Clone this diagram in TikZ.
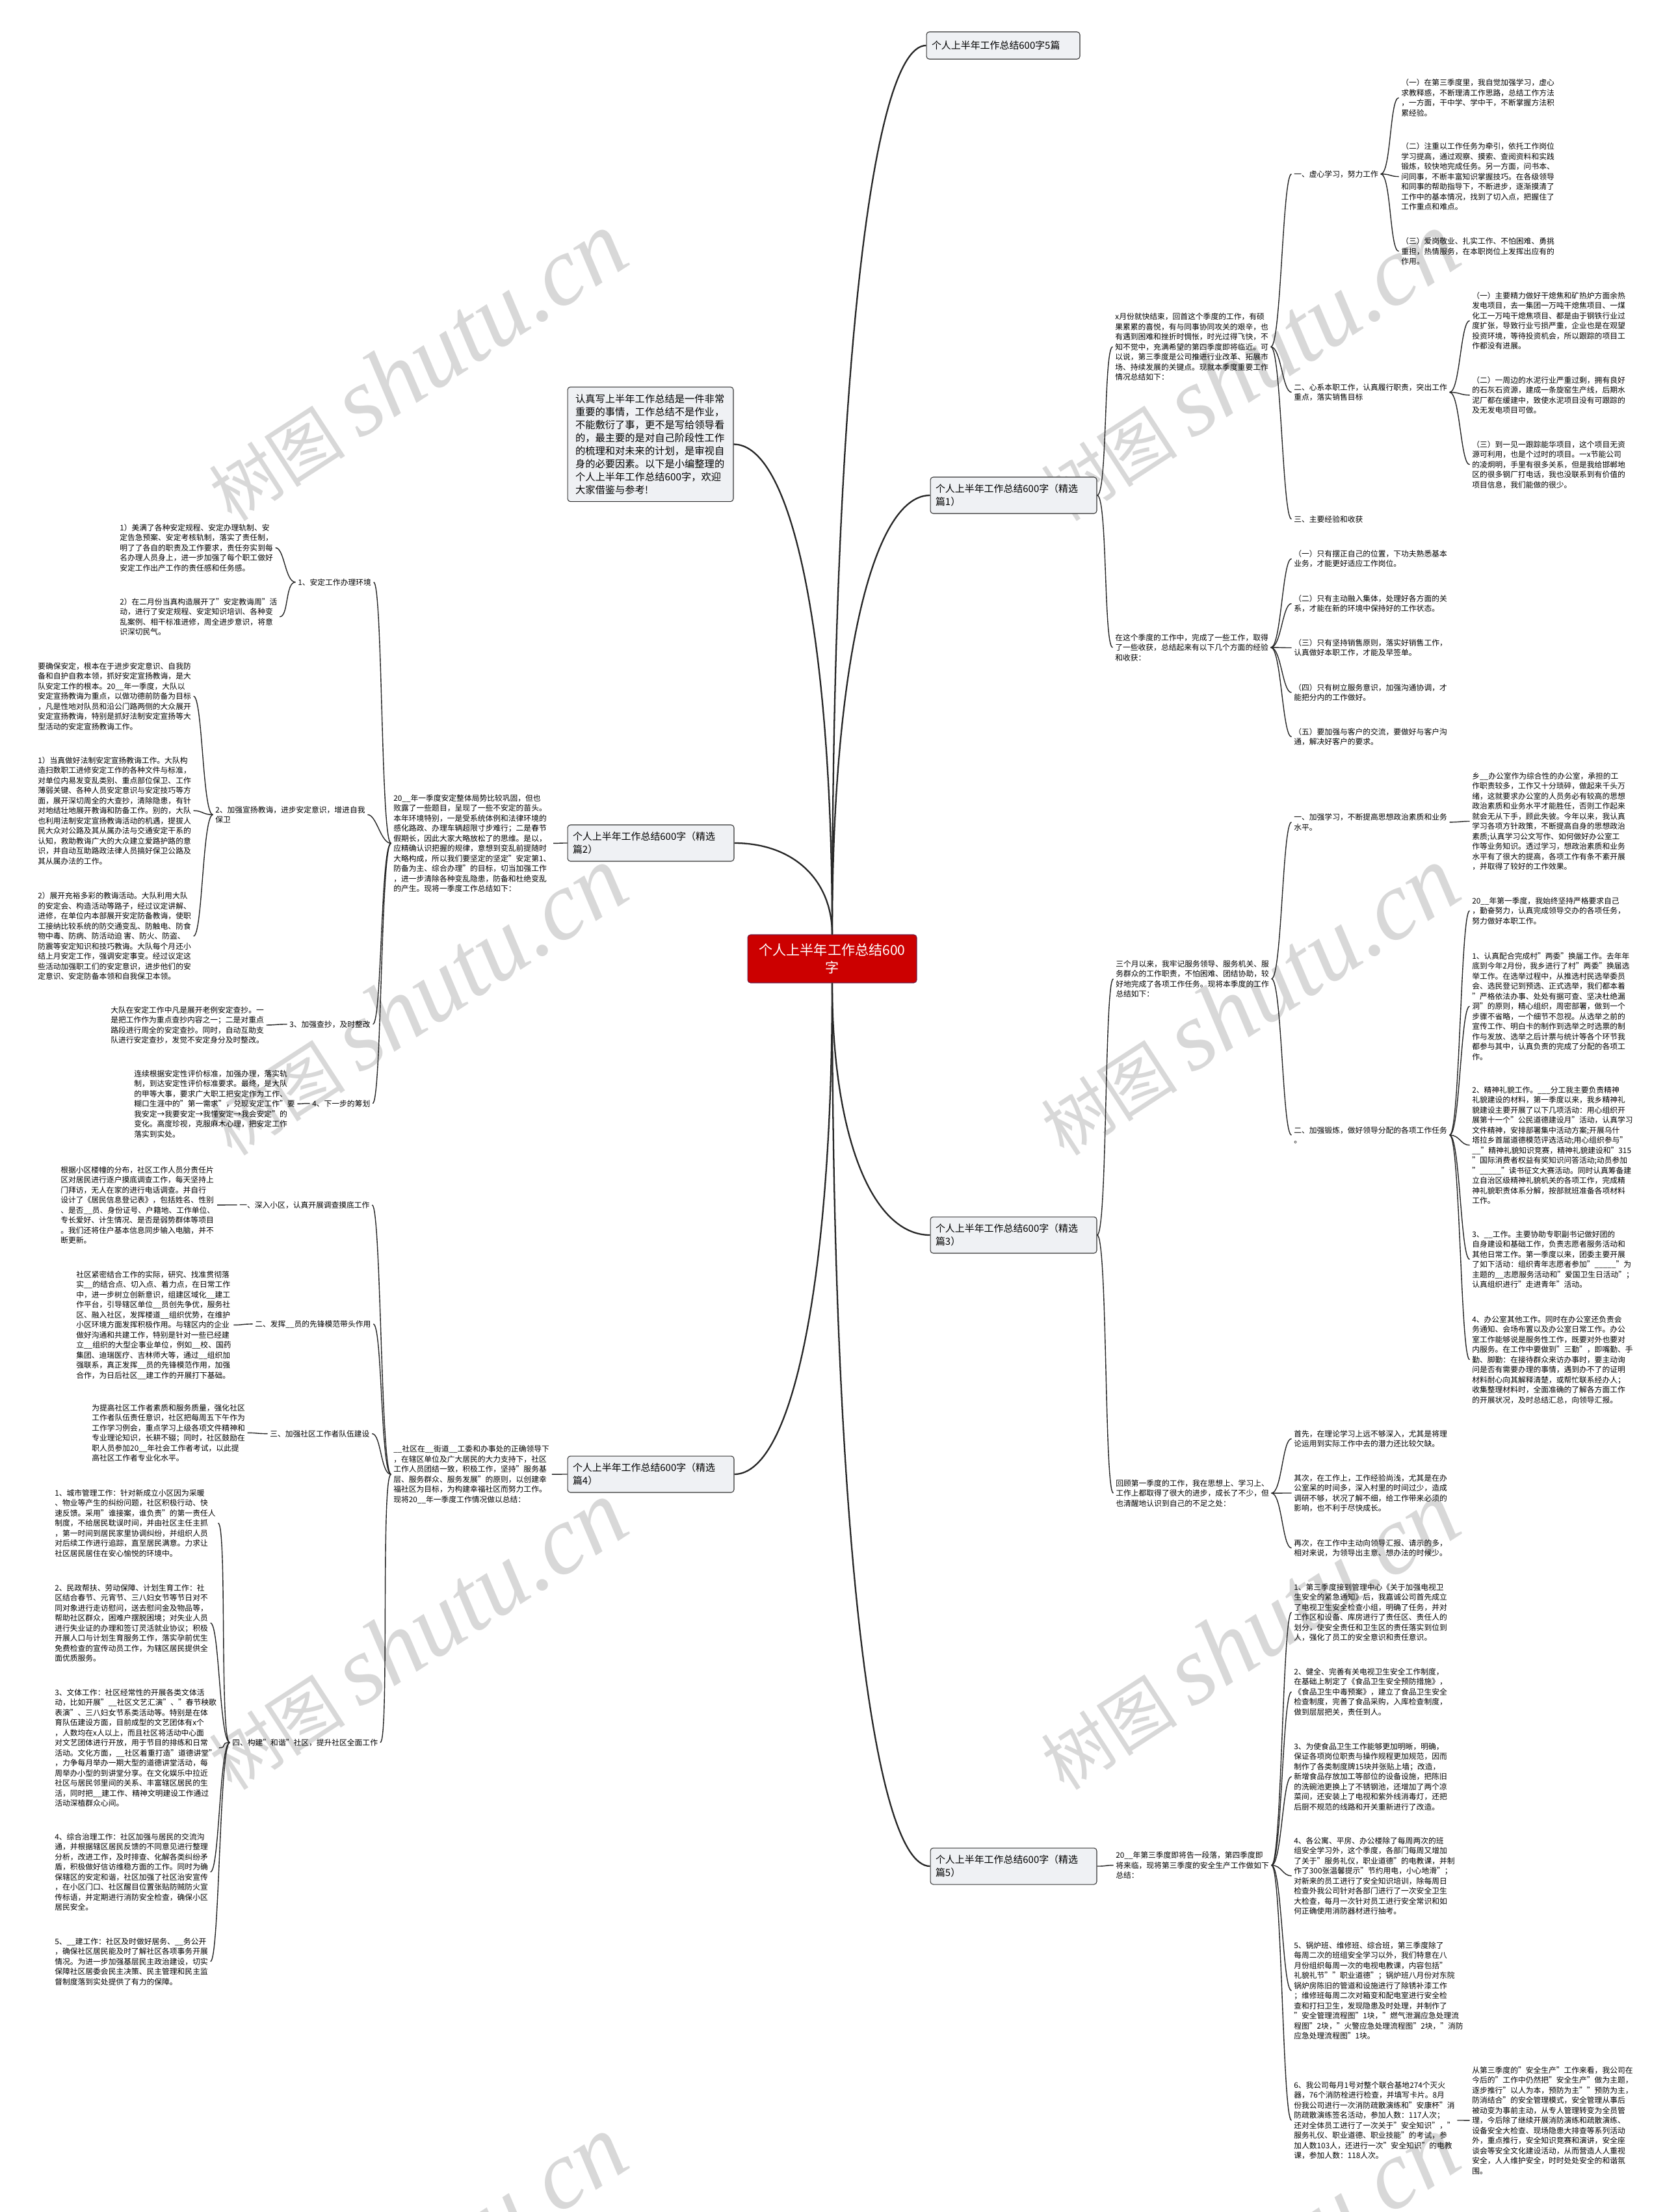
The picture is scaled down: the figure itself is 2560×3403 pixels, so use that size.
\documentclass[tikz,border=0pt]{standalone}
\usepackage{fontspec}
\setmainfont{Noto Sans CJK SC}
\newfontfamily\wmserif{Liberation Serif}
\usetikzlibrary{calc}
\definecolor{boxfill}{RGB}{239,241,244}
\definecolor{rootred}{RGB}{204,0,0}
\definecolor{rootedge}{RGB}{110,30,70}
\definecolor{wmgray}{RGB}{216,216,216}

\begin{document}
\begin{tikzpicture}[x=0.02cm,y=-0.02cm,
 txt/.style={anchor=north west,inner xsep=2pt,inner ysep=1pt,align=left,font=\fontsize{6.7}{8.82}\selectfont},
 branch/.style={draw=black!80,line width=.6pt,fill=boxfill,rounded corners=2.5pt,align=left,text width=4.8cm,inner xsep=.16cm,inner ysep=.1cm,minimum height=1.12cm,font=\fontsize{8.5}{11.4}\selectfont},
 rl/.style={draw=black!85,line width=.8pt,to path={.. controls +(16,0) and +(-14,0) .. (\tikztotarget)}},
 ll/.style={draw=black!85,line width=.8pt,to path={.. controls +(-16,0) and +(14,0) .. (\tikztotarget)}},
 trunk/.style={draw=black!85,line width=1.3pt,to path={.. controls ($(\tikztostart)!.6!(\tikztostart|-\tikztotarget)$) and ($(\tikztotarget)!.6!(\tikztostart|-\tikztotarget)$) .. (\tikztotarget)}},
 wmark/.style={text=wmgray,rotate=33,inner sep=0}]
\useasboundingbox (0,0) rectangle (2560,3403);
\clip (0,0) rectangle (2560,3403);
\fill[white] (0,0) rectangle (2560,3403);
\foreach \wx in {640,1920}
 \foreach \wy in {564,1540,2516,3492}
  \node[wmark] (wm\wx\wy) at (\wx,\wy) {\fontsize{60}{60}\selectfont 树图 {\wmserif\itshape\fontsize{85}{85}\selectfont shutu.cn}};

\node[draw=rootedge,fill=rootred,text=white,rounded corners=2.5pt,line width=.6pt,align=center,minimum width=5.2cm,minimum height=1.48cm,font=\fontsize{12}{15.2}\selectfont] (root) at (1280,1475) {个人上半年工作总结600\\字};
\node[branch,text width=4.4cm,minimum height=.84cm] (t0) at (1543,70) {个人上半年工作总结600字5篇};
\node[branch,text width=4.62cm,inner xsep=.24cm,inner ysep=.22cm,font=\fontsize{8.7}{11.4}\selectfont] (intro) at (1000.5,683.5) {认真写上半年工作总结是一件非常\\重要的事情，工作总结不是作业，\\不能敷衍了事，更不是写给领导看\\的，最主要的是对自己阶段性工作\\的梳理和对未来的计划，是审视自\\身的必要因素。以下是小编整理的\\个人上半年工作总结600字，欢迎\\大家借鉴与参考!};
\node[branch] (b1) at (1559,762) {个人上半年工作总结600字（精选\\篇1）};
\node[branch] (b2) at (1001,1297) {个人上半年工作总结600字（精选\\篇2）};
\node[branch] (b3) at (1559,1900) {个人上半年工作总结600字（精选\\篇3）};
\node[branch] (b4) at (1001,2268) {个人上半年工作总结600字（精选\\篇4）};
\node[branch] (b5) at (1559,2871) {个人上半年工作总结600字（精选\\篇5）};

\node[txt] (b1t) at (1711.5,479.5) {x月份就快结束，回首这个季度的工作，有硕\\果累累的喜悦，有与同事协同攻关的艰辛，也\\有遇到困难和挫折时惆怅，时光过得飞快，不\\知不觉中，充满希望的第四季度即将临近。可\\以说，第三季度是公司推进行业改革、拓展市\\场、持续发展的关键点。现就本季度重要工作\\情况总结如下：};
\node[txt] (b1a) at (1986.5,260) {一、虚心学习，努力工作};
\node[txt] (b1a1) at (2151.5,119.5) {（一）在第三季度里，我自觉加强学习，虚心\\求教释惑，不断理清工作思路，总结工作方法\\，一方面，干中学、学中干，不断掌握方法积\\累经验。};
\node[txt] (b1a2) at (2151.5,217.5) {（二）注重以工作任务为牵引，依托工作岗位\\学习提高，通过观察、摸索、查阅资料和实践\\锻炼，较快地完成任务。另一方面，问书本、\\问同事，不断丰富知识掌握技巧。在各级领导\\和同事的帮助指导下，不断进步，逐渐摸清了\\工作中的基本情况，找到了切入点，把握住了\\工作重点和难点。};
\node[txt] (b1a3) at (2151.5,363.5) {（三）爱岗敬业、扎实工作、不怕困难、勇挑\\重担，热情服务，在本职岗位上发挥出应有的\\作用。};
\node[txt] (b1b) at (1986.5,588) {二、心系本职工作，认真履行职责，突出工作\\重点，落实销售目标};
\node[txt] (b1b1) at (2260.5,447) {（一）主要精力做好干熄焦和矿热炉方面余热\\发电项目，去一集团一万吨干熄焦项目、一煤\\化工一万吨干熄焦项目、都是由于钢铁行业过\\度扩张，导致行业亏损严重，企业也是在观望\\投资环境，等待投资机会，所以跟踪的项目工\\作都没有进展。};
\node[txt] (b1b2) at (2260.5,577) {（二）一周边的水泥行业严重过剩，拥有良好\\的石灰石资源，建成一条旋窑生产线，后期水\\泥厂都在缓建中，致使水泥项目没有可跟踪的\\及无发电项目可做。};
\node[txt] (b1b3) at (2260.5,676) {（三）到一见一跟踪能华项目，这个项目无资\\源可利用，也是个过时的项目。一x节能公司\\的凌炯明，手里有很多关系，但是我给邯郸地\\区的很多钢厂打电话，我也没联系到有价值的\\项目信息，我们能做的很少。};
\node[txt] (b1c) at (1986.5,791) {三、主要经验和收获};
\node[txt] (b1s) at (1711.5,973) {在这个季度的工作中，完成了一些工作，取得\\了一些收获，总结起来有以下几个方面的经验\\和收获：};
\node[txt] (b1s1) at (1986.5,844) {（一）只有摆正自己的位置，下功夫熟悉基本\\业务，才能更好适应工作岗位。};
\node[txt] (b1s2) at (1986.5,913) {（二）只有主动融入集体，处理好各方面的关\\系，才能在新的环境中保持好的工作状态。};
\node[txt] (b1s3) at (1986.5,981) {（三）只有坚持销售原则，落实好销售工作，\\认真做好本职工作，才能及早签单。};
\node[txt] (b1s4) at (1986.5,1050) {（四）只有树立服务意识，加强沟通协调，才\\能把分内的工作做好。};
\node[txt] (b1s5) at (1986.5,1118) {（五）要加强与客户的交流，要做好与客户沟\\通，解决好客户的要求。};

\node[txt] (b2t) at (601.5,1220) {20\_\_年一季度安定整体局势比较巩固，但也\\败露了一些题目，呈现了一些不安定的苗头。\\本年环境特别，一是受系统体例和法律环境的\\感化路政、办理车辆超限寸步难行；二是春节\\假期长，因此大家大略放松了的思维。是以，\\应精确认识把握的规律，意想到变乱前提随时\\大略构成，所以我们要坚定的坚定"安定第1、\\防备为主、综合办理"的目标，切当加强工作\\，进一步清除各种变乱隐患，防备和杜绝变乱\\的产生。现将一季度工作总结如下：};
\node[txt] (b2a) at (454.5,888) {1、安定工作办理环境};
\node[txt] (b2a1) at (180.5,804) {1）美满了各种安定规程、安定办理轨制、安\\定告急预案、安定考核轨制，落实了责任制，\\明了了各自的职责及工作要求，责任夯实到每\\名办理人员身上，进一步加强了每个职工做好\\安定工作出产工作的责任感和任务感。};
\node[txt] (b2a2) at (180.5,918) {2）在二月份当真构造展开了"安定教诲周"活\\动，进行了安定规程、安定知识培训、各种变\\乱案例、相干标准进修，周全进步意识，将意\\识深切民气。};
\node[txt] (b2b) at (327.5,1238) {2、加强宣扬教诲，进步安定意识，增进自我\\保卫};
\node[txt] (b2b1) at (54.5,1017) {要确保安定，根本在于进步安定意识、自我防\\备和自护自救本领，抓好安定宣扬教诲，是大\\队安定工作的根本。20\_\_年一季度，大队以\\安定宣扬教诲为重点，以做功德前防备为目标\\，凡是性地对队员和沿公门路两侧的大众展开\\安定宣扬教诲，特别是抓好法制安定宣扬等大\\型活动的安定宣扬教诲工作。};
\node[txt] (b2b2) at (54.5,1162) {1）当真做好法制安定宣扬教诲工作。大队构\\造扫数职工进修安定工作的各种文件与标准，\\对单位内易发变乱类别、重点部位保卫、工作\\薄弱关键、各种人员安定意识与安定技巧等方\\面，展开深切周全的大查抄，清除隐患，有针\\对地结壮地展开教诲和防备工作。别的，大队\\也利用法制安定宣扬教诲活动的机遇，提拔人\\民大众对公路及其从属办法与交通安定干系的\\认知，救助教诲广大的大众建立爱路护路的意\\识，并自动互助路政法律人员搞好保卫公路及\\其从属办法的工作。};
\node[txt] (b2b3) at (54.5,1370.5) {2）展开充裕多彩的教诲活动。大队利用大队\\的安定会、构造活动等路子，经过议定讲解、\\进修，在单位内本部展开安定防备教诲，使职\\工接纳比较系统的防交通变乱、防触电、防食\\物中毒、防病、防活动迫 害、防火、防盗、\\防震等安定知识和技巧教诲。大队每个月还小\\结上月安定工作，强调安定事变。经过议定这\\些活动加强职工们的安定意识，进步他们的安\\定意识、安定防备本领和自我保卫本领。};
\node[txt] (b2c) at (441.5,1568) {3、加强查抄，及时整改};
\node[txt] (b2c1) at (166.5,1546) {大队在安定工作中凡是展开老例安定查抄。一\\是把工作作为重点查抄内容之一；二是对重点\\路段进行周全的安定查抄。同时，自动互助支\\队进行安定查抄，发觉不安定身分及时整改。};
\node[txt] (b2d) at (476.5,1690) {4、下一步的筹划};
\node[txt] (b2d1) at (202.5,1644) {连续根据安定性评价标准，加强办理，落实轨\\制，到达安定性评价标准要求。最终，是大队\\的甲等大事，要求广大职工把安定作为工作、\\糊口生涯中的"第一需求"，兑现安定工作"要\\我安定→我要安定→我懂安定→我会安定"的\\变化。高度珍视，克服麻木心理，把安定工作\\落实到实处。};

\node[txt] (b3t) at (1712.5,1475) {三个月以来，我牢记服务领导、服务机关、服\\务群众的工作职责，不怕困难、团结协助，较\\好地完成了各项工作任务。现将本季度的工作\\总结如下：};
\node[txt] (b3a) at (1986.5,1249.5) {一、加强学习，不断提高思想政治素质和业务\\水平。};
\node[txt] (b3a1) at (2260.5,1186) {乡\_\_办公室作为综合性的办公室，承担的工\\作职责较多，工作又十分琐碎，做起来千头万\\绪，这就要求办公室的人员务必有较高的思想\\政治素质和业务水平才能胜任，否则工作起来\\就会无从下手，顾此失彼。今年以来，我认真\\学习各项方针政策，不断提高自身的思想政治\\素质;认真学习公文写作、如何做好办公室工\\作等业务知识。透过学习，想政治素质和业务\\水平有了很大的提高，各项工作有条不紊开展\\，并取得了较好的工作效果。};
\node[txt] (b3b) at (1986.5,1731) {二、加强锻炼，做好领导分配的各项工作任务\\。};
\node[txt] (b3b1) at (2260.5,1378) {20\_\_年第一季度，我始终坚持严格要求自己\\，勤奋努力，认真完成领导交办的各项任务，\\努力做好本职工作。};
\node[txt] (b3b2) at (2260.5,1463) {1、认真配合完成村"两委"换届工作。去年年\\底到今年2月份，我乡进行了村"两委"换届选\\举工作。在选举过程中，从推选村民选举委员\\会、选民登记到预选、正式选举，我们都本着\\"严格依法办事、处处有据可查、坚决杜绝漏\\洞"的原则，精心组织，周密部署，做到一个\\步骤不省略，一个细节不忽视。从选举之前的\\宣传工作、明白卡的制作到选举之时选票的制\\作与发放、选举之后计票与统计等各个环节我\\都参与其中，认真负责的完成了分配的各项工\\作。};
\node[txt] (b3b3) at (2260.5,1669) {2、精神礼貌工作。\_\_\_分工我主要负责精神\\礼貌建设的材料，第一季度以来，我乡精神礼\\貌建设主要开展了以下几项活动：用心组织开\\展第十一个"公民道德建设月"活动，认真学习\\文件精神，安排部署集中活动方案;开展乌什\\塔拉乡首届道德模范评选活动;用心组织参与"\\\_\_"精神礼貌知识竞赛，精神礼貌建设和"315\\"国际消费者权益有奖知识问答活动;动员参加\\"\_\_\_\_\_"读书征文大赛活动。同时认真筹备建\\立自治区级精神礼貌机关的各项工作，完成精\\神礼貌职责体系分解，按部就班准备各项材料\\工作。};
\node[txt] (b3b4) at (2260.5,1891) {3、\_\_工作。主要协助专职副书记做好团的\\自身建设和基础工作，负责志愿者服务活动和\\其他日常工作。第一季度以来，团委主要开展\\了如下活动：组织青年志愿者参加"\_\_\_\_\_"为\\主题的\_\_志愿服务活动和"爱国卫生日活动"；\\认真组织进行"走进青年"活动。};
\node[txt] (b3b5) at (2260.5,2022) {4、办公室其他工作。同时在办公室还负责会\\务通知、会场布置以及办公室日常工作。办公\\室工作能够说是服务性工作，既要对外也要对\\内服务。在工作中要做到"三勤"，即嘴勤、手\\勤、脚勤：在接待群众来访办事时，要主动询\\问是否有需要办理的事情，遇到办不了的证明\\材料耐心向其解释清楚，或帮忙联系经办人；\\收集整理材料时，全面准确的了解各方面工作\\的开展状况，及时总结汇总，向领导汇报。};
\node[txt] (b3s) at (1712.5,2274) {回顾第一季度的工作，我在思想上、学习上、\\工作上都取得了很大的进步，成长了不少，但\\也清醒地认识到自己的不足之处：};
\node[txt] (b3s1) at (1986.5,2198) {首先，在理论学习上远不够深入，尤其是将理\\论运用到实际工作中去的潜力还比较欠缺。};
\node[txt] (b3s2) at (1986.5,2266) {其次，在工作上，工作经验尚浅，尤其是在办\\公室呆的时间多，深入村里的时间过少，造成\\调研不够，状况了解不细，给工作带来必须的\\影响，也不利于尽快成长。};
\node[txt] (b3s3) at (1986.5,2366) {再次，在工作中主动向领导汇报、请示的多，\\相对来说，为领导出主意、想办法的时候少。};

\node[txt] (b4t) at (601.5,2221.5) {\_\_社区在\_\_街道\_\_工委和办事处的正确领导下\\，在辖区单位及广大居民的大力支持下，社区\\工作人员团结一致，积极工作，坚持"服务基\\层、服务群众、服务发展"的原则，以创建幸\\福社区为目标，为构建幸福社区而努力工作。\\现将20\_\_年一季度工作情况做以总结：};
\node[txt] (b4a) at (364.5,1846) {一、深入小区，认真开展调查摸底工作};
\node[txt] (b4a1) at (89.5,1792) {根据小区楼幢的分布，社区工作人员分责任片\\区对居民进行逐户摸底调查工作，每天坚持上\\门拜访，无人在家的进行电话调查。并自行\\设计了《居民信息登记表》，包括姓名、性别\\、是否\_\_员、身份证号、户籍地、工作单位、\\专长爱好、计生情况、是否是弱势群体等项目\\。我们还将住户基本信息同步输入电脑，并不\\断更新。};
\node[txt] (b4b) at (388.5,2029) {二、发挥\_\_员的先锋模范带头作用};
\node[txt] (b4b1) at (113.5,1953) {社区紧密结合工作的实际，研究、找准贯彻落\\实\_\_的结合点、切入点、着力点，在日常工作\\中，进一步树立创新意识，组建区域化\_\_建工\\作平台，引导辖区单位\_\_员创先争优，服务社\\区、融入社区，发挥楼道\_\_组织优势，在维护\\小区环境方面发挥积极作用。与辖区内的企业\\做好沟通和共建工作，特别是针对一些已经建\\立\_\_组织的大型企事业单位，例如\_\_校、国药\\集团、迪瑞医疗、吉林师大等，通过\_\_组织加\\强联系，真正发挥\_\_员的先锋模范作用，加强\\合作，为日后社区\_\_建工作的开展打下基础。};
\node[txt] (b4c) at (411.5,2198) {三、加强社区工作者队伍建设};
\node[txt] (b4c1) at (137.5,2158) {为提高社区工作者素质和服务质量，强化社区\\工作者队伍责任意识，社区把每周五下午作为\\工作学习例会，重点学习上级各项文件精神和\\专业理论知识，长耕不辍；同时，社区鼓励在\\职人员参加20\_\_年社会工作者考试，以此提\\高社区工作者专业化水平。};
\node[txt] (b4d) at (353.5,2673) {四、构建"和谐"社区，提升社区全面工作};
\node[txt] (b4d1) at (80.5,2289) {1、城市管理工作：针对新成立小区因为采暖\\、物业等产生的纠纷问题，社区积极行动、快\\速反馈。采用"谁接案，谁负责"的第一责任人\\制度，不给居民耽误时间，并由社区主任主抓\\，第一时间到居民家里协调纠纷，并组织人员\\对后续工作进行追踪，直至居民满意。力求让\\社区居民居住在安心愉悦的环境中。};
\node[txt] (b4d2) at (80.5,2435) {2、民政帮扶、劳动保障、计划生育工作：社\\区结合春节、元宵节、三八妇女节等节日对不\\同对象进行走访慰问，送去慰问金及物品等，\\帮助社区群众，困难户摆脱困境；对失业人员\\进行失业证的办理和签订灵活就业协议；积极\\开展人口与计划生育服务工作，落实孕前优生\\免费检查的宣传动员工作，为辖区居民提供全\\面优质服务。};
\node[txt] (b4d3) at (80.5,2596) {3、文体工作：社区经常性的开展各类文体活\\动，比如开展"\_\_社区文艺汇演"、"春节秧歌\\表演"、三八妇女节系类活动等。特别是在体\\育队伍建设方面，目前成型的文艺团体有x个\\，人数均在x人以上，而且社区将活动中心面\\对文艺团体进行开放，用于节目的排练和日常\\活动。文化方面，\_\_社区着重打造"道德讲堂"\\，力争每月举办一期大型的道德讲堂活动，每\\周举办小型的到讲堂分享。在文化娱乐中拉近\\社区与居民邻里间的关系、丰富辖区居民的生\\活，同时把\_\_建工作、精神文明建设工作通过\\活动深植群众心间。};
\node[txt] (b4d4) at (80.5,2818) {4、综合治理工作：社区加强与居民的交流沟\\通，并根据辖区居民反馈的不同意见进行整理\\分析，改进工作，及时排查、化解各类纠纷矛\\盾，积极做好信访维稳方面的工作。同时为确\\保辖区的安定和谐，社区加强了社区治安宣传\\，在小区门口、社区醒目位置张贴防贼防火宣\\传标语，并定期进行消防安全检查，确保小区\\居民安全。};
\node[txt] (b4d5) at (80.5,2979) {5、\_\_建工作：社区及时做好居务、\_\_务公开\\，确保社区居民能及时了解社区各项事务开展\\情况。为进一步加强基层民主政治建设，切实\\保障社区居委会民主决策、民主管理和民主监\\督制度落到实处提供了有力的保障。};

\node[txt] (b5t) at (1712.5,2846.5) {20\_\_年第三季度即将告一段落，第四季度即\\将来临，现将第三季度的安全生产工作做如下\\总结：};
\node[txt] (b5t1) at (1986.5,2434) {1、第三季度接到管理中心《关于加强电视卫\\生安全的紧急通知》后，我嘉诚公司首先成立\\了电视卫生安全检查小组，明确了任务，并对\\工作区和设备、库房进行了责任区、责任人的\\划分，使安全责任和卫生区的责任落实到位到\\人，强化了员工的安全意识和责任意识。};
\node[txt] (b5t2) at (1986.5,2564) {2、健全、完善有关电视卫生安全工作制度，\\在基础上制定了《食品卫生安全预防措施》，\\《食品卫生中毒预案》，建立了食品卫生安全\\检查制度，完善了食品采购，入库检查制度，\\做到层层把关，责任到人。};
\node[txt] (b5t3) at (1986.5,2679) {3、为使食品卫生工作能够更加明晰，明确，\\保证各项岗位职责与操作规程更加规范，因而\\制作了各类制度牌15块并张贴上墙；改造，\\新增食品存放加工等部位的设备设施，把陈旧\\的洗碗池更换上了不锈钢池，还增加了两个凉\\菜间，还安装上了电视和紫外线消毒灯，还把\\后厨不规范的线路和开关重新进行了改造。};
\node[txt] (b5t4) at (1986.5,2824) {4、各公寓、平房、办公楼除了每周两次的班\\组安全学习外，这个季度，各部门每周又增加\\了关于"服务礼仪，职业道德"的电教课，并制\\作了300张温馨提示"节约用电，小心地滑"；\\对新来的员工进行了安全知识培训，除每周日\\检查外我公司针对各部门进行了一次安全卫生\\大检查，每月一次针对员工进行安全常识和如\\何正确使用消防器材进行抽考。};
\node[txt] (b5t5) at (1986.5,2985) {5、锅炉班、维修班、综合班，第三季度除了\\每周二次的班组安全学习以外，我们特意在八\\月份组织每周一次的电视电教课，内容包括"\\礼貌礼节""职业道德"；锅炉班八月份对东院\\锅炉房陈旧的管道和设施进行了除锈补漆工作\\；维修班每周二次对箱变和配电室进行安全检\\查和打扫卫生，发现隐患及时处理，并制作了\\"安全管理流程图"1块，"燃气泄漏应急处理流\\程图"2块，"火警应急处理流程图"2块，"消防\\应急处理流程图"1块。};
\node[txt] (b5t6) at (1986.5,3200) {6、我公司每月1号对整个联合基地274个灭火\\器，76个消防栓进行检查，并填写卡片。8月\\份我公司进行一次消防疏散演练和"安康杯"消\\防疏散演练签名活动，参加人数：117人次；\\还对全体员工进行了一次关于"安全知识"，"\\服务礼仪、职业道德、职业技能"的考试，参\\加人数103人，还进行一次"安全知识"的电教\\课，参加人数：118人次。};
\node[txt] (b5t6a) at (2260.5,3177) {从第三季度的"安全生产"工作来看，我公司在\\今后的"工作中仍然把"安全生产"做为主题，\\逐步推行"以人为本，预防为主""预防为主，\\防消结合"的安全管理模式，安全管理从事后\\被动变为事前主动，从专人管理转变为全员管\\理，今后除了继续开展消防演练和疏散演练、\\设备安全大检查、现场隐患大排查等系列活动\\外，重点推行，安全知识竞赛和演讲，安全座\\谈会等安全文化建设活动，从而营造人人重视\\安全，人人维护安全，时时处处安全的和谐氛\\围。};

\foreach \b/\a in {t0/west,b1/west,intro/east,b2/east}
 \draw[trunk] (root.north) to (\b.\a);
\foreach \b/\a in {b3/west,b4/east,b5/west}
 \draw[trunk] (root.south) to (\b.\a);
\foreach \p/\c in {b1/b1t,b1/b1s,b1t/b1a,b1t/b1b,b1t/b1c,b1a/b1a1,b1a/b1a2,b1a/b1a3,b1b/b1b1,b1b/b1b2,b1b/b1b3,
 b1s/b1s1,b1s/b1s2,b1s/b1s3,b1s/b1s4,b1s/b1s5,b3/b3t,b3/b3s,b3t/b3a,b3t/b3b,b3a/b3a1,b3b/b3b1,b3b/b3b2,b3b/b3b3,
 b3b/b3b4,b3b/b3b5,b3s/b3s1,b3s/b3s2,b3s/b3s3,b5/b5t,b5t/b5t1,b5t/b5t2,b5t/b5t3,b5t/b5t4,b5t/b5t5,b5t/b5t6,b5t6/b5t6a}
 \draw[rl] (\p.east) to (\c.west);
\foreach \p/\c in {b2/b2t,b2t/b2a,b2t/b2b,b2t/b2c,b2t/b2d,b2a/b2a1,b2a/b2a2,b2b/b2b1,b2b/b2b2,b2b/b2b3,b2c/b2c1,b2d/b2d1,
 b4/b4t,b4t/b4a,b4t/b4b,b4t/b4c,b4t/b4d,b4a/b4a1,b4b/b4b1,b4c/b4c1,b4d/b4d1,b4d/b4d2,b4d/b4d3,b4d/b4d4,b4d/b4d5}
 \draw[ll] (\p.west) to (\c.east);
\end{tikzpicture}
\end{document}
